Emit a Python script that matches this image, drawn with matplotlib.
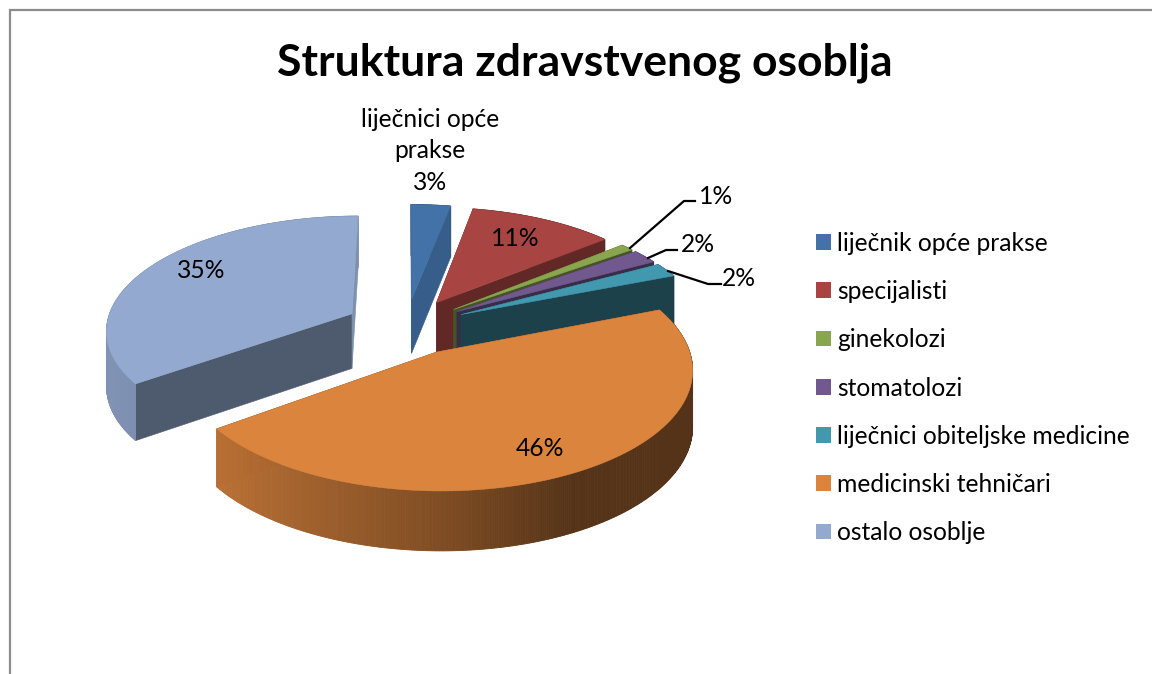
import numpy as np
import matplotlib
matplotlib.use('Agg')
import matplotlib.pyplot as plt
from matplotlib.patches import Patch, Polygon
from matplotlib.colors import to_rgb

plt.rcParams['font.family'] = ['Lato', 'DejaVu Sans']

# Data
categories = ['liječnik opće prakse', 'specijalisti', 'ginekolozi', 'stomatolozi',
              'liječnici obiteljske medicine', 'medicinski tehničari', 'ostalo osoblje']
values = [3, 11, 1, 2, 2, 46, 35]
colors = ['#4372A8', '#A84542', '#89A54E', '#71588F', '#4198AF', '#DB843D', '#93A9CF']
face_shade = [0.82, 0.58, 0.5, 0.5, 0.43, 0.5, 0.53]

# 3D look of the pie
cx, cy = 406, 326.5
rx, ry = 246, 113.5
persp = 0.13
explode = 0.25
depth = 55


def project(x, y):
    s = 1 / (1 + persp * y)
    return cx + rx * x * s, cy - ry * y * s, depth * np.sqrt(s)


def shade(color, f):
    return tuple(min(1, c * f) for c in to_rgb(color))


fig = plt.figure(figsize=(11.52, 6.74), dpi=100)
ax = fig.add_axes([0, 0, 1, 1])
ax.set_xlim(0, 1152)
ax.set_ylim(674, 0)
ax.axis('off')

# chart frame
ax.plot([10, 10, 1152], [674, 10, 10], color='#8C8C8C', lw=1.6, solid_joinstyle='miter')

edges = np.cumsum([0] + values) / sum(values) * 2 * np.pi
mids = []
for i in range(len(values)):
    mids.append((edges[i] + edges[i + 1]) / 2)

# back slices first, orange one last
for order, i in enumerate([0, 1, 2, 3, 4, 6, 5]):
    t0, t1 = edges[i], edges[i + 1]
    ox, oy = explode * np.sin(mids[i]), explode * np.cos(mids[i])
    th = np.linspace(t0, t1, max(4, int(values[i] * 8)))
    px, py, pd = project(ox + np.sin(th), oy + np.cos(th))
    ax_, ay_, ad_ = project(ox, oy)
    z = 2 + order * 0.01

    # outer wall in thin strips, shading runs along the rim
    # the back part goes under the cut faces, the front part over them
    for k in range(len(th) - 1):
        mid = (th[k] + th[k + 1]) / 2
        f = np.interp(np.sin(mid), [-0.95, -0.81, 0, 0.45, 0.9], [0.87, 0.85, 0.58, 0.39, 0.39])
        c = shade(colors[i], f)
        ax.add_patch(Polygon([(px[k], py[k]), (px[k + 1], py[k + 1]),
                              (px[k + 1], py[k + 1] + pd[k + 1]), (px[k], py[k] + pd[k])],
                             fc=c, ec=c, lw=0.6, zorder=z + (0.002 if np.cos(mid) < 0 else 0)))

    # cut faces
    for j in [0, -1]:
        c = shade(colors[i], face_shade[i])
        if i == 6 and j == -1:
            c = shade(colors[i], 0.85)
        ax.add_patch(Polygon([(ax_, ay_), (px[j], py[j]), (px[j], py[j] + pd[j]), (ax_, ay_ + ad_)],
                             fc=c, ec=c, lw=0.4, zorder=z + 0.001))

    # top
    ax.add_patch(Polygon(list(zip(px, py)) + [(ax_, ay_)], fc=colors[i], ec=colors[i], lw=0.4,
                         zorder=z + 0.003))

# title and labels
ax.text(584.5, 63, 'Struktura zdravstvenog osoblja', ha='center', va='center',
        fontsize=32, fontweight='bold', color='black')

lab = 17.7
ax.text(430, 151, 'liječnici opće\nprakse\n%d%%' % values[0], ha='center', va='center',
        fontsize=lab, linespacing=1.47, zorder=5)
ax.text(515, 238, '%d%%' % values[1], ha='center', va='center', fontsize=lab, zorder=5)
ax.text(716, 196, '%d%%' % values[2], ha='center', va='center', fontsize=lab, zorder=5)
ax.text(698, 244, '%d%%' % values[3], ha='center', va='center', fontsize=lab, zorder=5)
ax.text(739, 279, '%d%%' % values[4], ha='center', va='center', fontsize=lab, zorder=5)
ax.text(540, 448, '%d%%' % values[5], ha='center', va='center', fontsize=lab, zorder=5)
ax.text(201, 271, '%d%%' % values[6], ha='center', va='center', fontsize=lab, zorder=5)

# leader lines
ax.plot([630, 684, 695], [248, 201, 201], color='black', lw=1.6, zorder=4)
ax.plot([648, 666, 677], [258, 250, 250], color='black', lw=1.6, zorder=4)
ax.plot([668, 708, 721], [271, 284, 284], color='black', lw=1.6, zorder=4)

# legend
handles = [Patch(facecolor=c, edgecolor='none') for c in colors]
ax.legend(handles, categories, loc='center left', bbox_to_anchor=(816 / 1152, 1 - 388 / 674),
          frameon=False, fontsize=lab, labelspacing=1.027, handlelength=0.61, handleheight=0.61,
          handletextpad=0.25, borderpad=0, borderaxespad=0)

fig.savefig('out.png', dpi=100)
